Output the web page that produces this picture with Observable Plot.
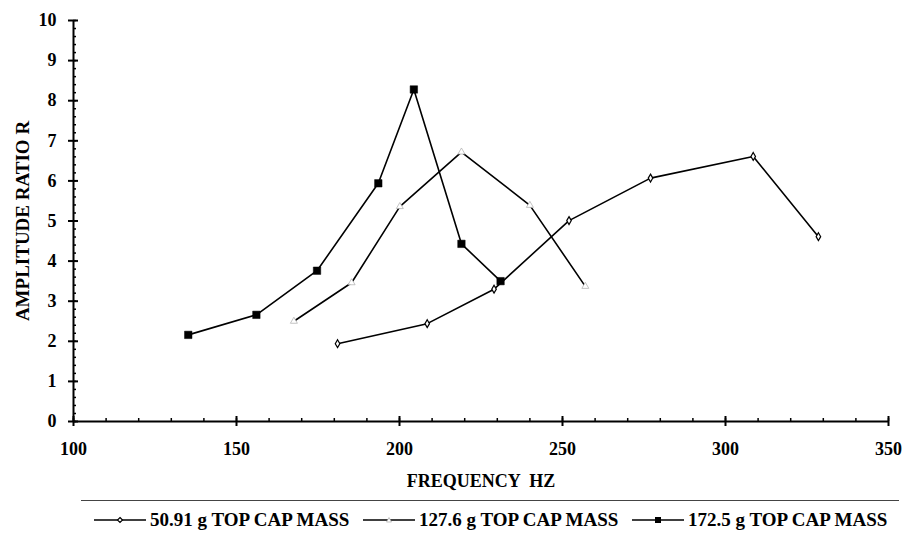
<!DOCTYPE html>
<html>
<head>
<meta charset="utf-8">
<script src="https://cdn.jsdelivr.net/npm/d3@7"></script>
<script src="https://cdn.jsdelivr.net/npm/@observablehq/plot@0.6"></script>
<style>
  html, body { margin: 0; padding: 0; background: #fff; }
  #wrap { width: 903px; height: 543px; position: relative; font-family: "Liberation Serif", "Times New Roman", serif; font-weight: bold; color: #000; }
  #chart svg, #chart svg text { font-family: "Liberation Serif", "Times New Roman", serif !important; font-weight: bold; }
  #sep { position: absolute; left: 81px; top: 500px; width: 818px; height: 0; border-top: 1px solid #444; }
  .item { position: absolute; top: 509px; display: flex; align-items: center; font-size: 19px; white-space: nowrap; line-height: 22px; }
  .item svg { margin-right: 4px; }
</style>
</head>
<body>
<div id="wrap">
  <div id="chart"></div>
  <div id="sep"></div>
  <div id="legend"></div>
</div>
<script>
// Data
const seriesNames = ["50.91 g TOP CAP MASS", "127.6 g TOP CAP MASS", "172.5 g TOP CAP MASS"];
const freq50 = [181, 208.5, 229, 252, 277, 308.5, 328.5];
const ratio50 = [1.94, 2.44, 3.30, 5.01, 6.07, 6.61, 4.61];
const freq127 = [167.6, 185.3, 200.1, 219, 240, 257];
const ratio127 = [2.50, 3.46, 5.36, 6.72, 5.39, 3.37];
const freq172 = [135.2, 156.1, 174.7, 193.5, 204.4, 219, 231];
const ratio172 = [2.16, 2.66, 3.76, 5.94, 8.28, 4.43, 3.50];
const xTicks = [100, 150, 200, 250, 300, 350];
const yTicks = [0, 1, 2, 3, 4, 5, 6, 7, 8, 9, 10];
const xLabel = "FREQUENCY  HZ";
const yLabel = "AMPLITUDE RATIO R";

const toRows = (f, r) => f.map((x, i) => ({x, y: r[i]}));
const s50 = toRows(freq50, ratio50);
const s127 = toRows(freq127, ratio127);
const s172 = toRows(freq172, ratio172);
const xMinor = d3.range(100, 350.001, 10);
const yMinor = d3.range(0, 10.001, 0.2);
const blank = () => "";

const chart = Plot.plot({
  width: 903,
  height: 500,
  marginLeft: 73,
  marginRight: 15,
  marginTop: 20,
  marginBottom: 79,
  x: {domain: [100, 350]},
  y: {domain: [0, 10]},
  style: {fontFamily: "Liberation Serif, serif", fontWeight: "bold", fontSize: "18px", color: "#000", background: "#fff", overflow: "visible"},
  marks: [
    Plot.axisY({ticks: yTicks, tickSize: 5, tickPadding: 12, strokeWidth: 2, fontSize: 18, label: null}),
    Plot.axisY({ticks: [], tickSize: 0, fontSize: 19, label: yLabel, labelAnchor: "center", labelArrow: "none", labelOffset: 58}),
    Plot.axisY({ticks: yTicks, tickSize: 5, dx: 5, strokeWidth: 2, tickFormat: blank, label: null}),
    Plot.axisY({ticks: yMinor, tickSize: 3, dx: 3, strokeWidth: 1.5, tickFormat: blank, label: null}),
    Plot.axisX({ticks: xTicks, tickSize: 5, tickPadding: 16, strokeWidth: 2, fontSize: 18, label: xLabel, labelAnchor: "center", labelArrow: "none", labelOffset: 65}),
    Plot.axisX({ticks: xTicks, tickSize: 5, dy: -5, strokeWidth: 2, tickFormat: blank, label: null}),
    Plot.axisX({ticks: xMinor, tickSize: 3, dy: -3, strokeWidth: 1.5, tickFormat: blank, label: null}),
    Plot.ruleX([100], {y1: 0, y2: 10, stroke: "#000", strokeWidth: 2}),
    Plot.ruleY([0], {x1: 100, x2: 350, stroke: "#000", strokeWidth: 2}),
    Plot.line(s50, {x: "x", y: "y", stroke: "#000", strokeWidth: 1.6}),
    Plot.line(s127, {x: "x", y: "y", stroke: "#000", strokeWidth: 1.6}),
    Plot.line(s172, {x: "x", y: "y", stroke: "#000", strokeWidth: 1.6}),
    Plot.dot(s50, {x: "x", y: "y", symbol: "diamond", r: 2.4, fill: "#fff", stroke: "#000", strokeWidth: 1.2}),
    Plot.dot(s127, {x: "x", y: "y", symbol: "triangle", r: 2.6, fill: "#fff", stroke: "#aaa", strokeWidth: 0.7}),
    Plot.dot(s172, {x: "x", y: "y", symbol: "square", r: 4.2, fill: "#000", stroke: "#000", strokeWidth: 0.5})
  ]
});
document.getElementById("chart").appendChild(chart);

// Legend
const markerSvgs = [
  '<path d="M26,3.5 L28.5,6 L26,8.5 L23.5,6 Z" fill="#fff" stroke="#000" stroke-width="1.2"/>',
  '<path d="M26,3.5 L28.5,8 L23.5,8 Z" fill="#fff" stroke="#aaa" stroke-width="0.7"/>',
  '<rect x="23" y="3" width="6" height="6" fill="#000"/>'
];
const legendLeft = [94, 363, 632];
const legend = document.getElementById("legend");
seriesNames.forEach((name, i) => {
  const item = document.createElement("div");
  item.className = "item";
  item.style.left = legendLeft[i] + "px";
  item.innerHTML = '<svg width="52" height="12"><line x1="0" x2="52" y1="6" y2="6" stroke="#000" stroke-width="1.5"/>' + markerSvgs[i] + '</svg><span>' + name + '</span>';
  legend.appendChild(item);
});
</script>
</body>
</html>
